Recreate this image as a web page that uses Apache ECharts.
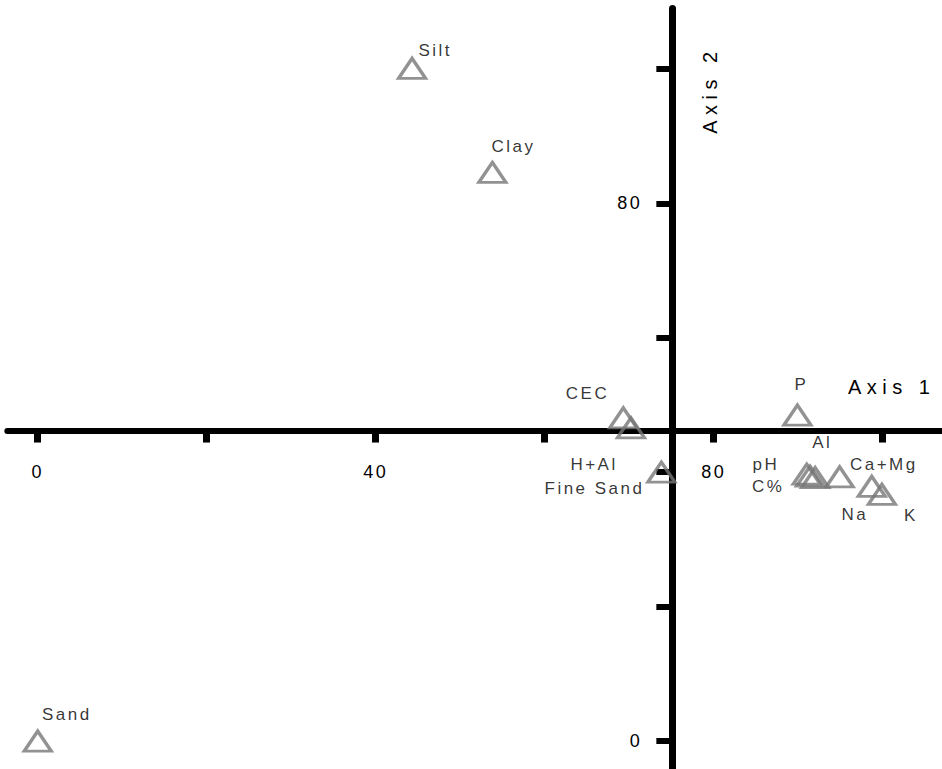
<!DOCTYPE html>
<html>
<head>
<meta charset="utf-8">
<script src="https://cdn.jsdelivr.net/npm/echarts@6/dist/echarts.min.js"></script>
<style>
  html, body { margin: 0; padding: 0; background: #fff; }
  #chart { width: 942px; height: 769px; }
  /* spaced-out lettering of the printed plot */
  #chart text { letter-spacing: 2.5px; }
  #chart text[style*="20px"] { letter-spacing: 5.5px; }
</style>
</head>
<body>
<div id="chart"></div>
<script>
// Variables (biplot scores)
const names = ['Silt', 'Clay', 'Sand', 'CEC', 'H+Al', 'Fine Sand', 'P', 'pH', 'C%', 'Al', 'Ca+Mg', 'Na', 'K'];
const axis1 = [44.3, 53.8, 0, 69.3, 70.2, 73.8, 89.9, 91.0, 91.4, 92.0, 94.9, 98.7, 99.9];
const axis2 = [100.1, 84.6, 0, 48.1, 46.6, 40.0, 48.5, 39.7, 39.4, 39.2, 39.3, 37.9, 36.7];

// Axis ticks and labels
const xTicks = [0, 20, 40, 60, 80, 100];
const xTickLabels = [0, 40, 80];
const yTicks = [0, 20, 40, 60, 80, 100];
const yTickLabels = [0, 80];

// Point where the two axes cross
const crossX = 75.1;
const crossY = 46.2;

// Label placement (pixel offsets of each label centre from its marker centre)
const labelOffsets = {
  'Silt': [25, -16], 'Clay': [23, -25], 'Sand': [31, -25],
  'CEC': [-34, -23], 'H+Al': [-35, 38], 'Fine Sand': [-65, 18],
  'P': [6, -29], 'pH': [-39, -8], 'C%': [-40, 12], 'Al': [9, -34],
  'Ca+Mg': [46, -11], 'Na': [-15, 30], 'K': [31, 22]
};

const W = 942, H = 769;
const xMin = -3.6, xMax = 107, yMin = -4, yMax = 109;
const grid = { left: 7.3, right: 0.1, top: 8.5, bottom: 1.1 };
const gridW = W - grid.left - grid.right;
const gridH = H - grid.top - grid.bottom;
const xAxisOffset = -((crossY - yMin) / (yMax - yMin)) * gridH;
const yAxisOffset = -((crossX - xMin) / (xMax - xMin)) * gridW;

const symW = 27, symH = 20;
const font = 'Liberation Sans';
const textColor = '#000';

const points = names.map((n, i) => ({
  name: n,
  value: [axis1[i], axis2[i]],
  label: { position: [symW / 2 + labelOffsets[n][0], symH / 2 + labelOffsets[n][1]] }
}));

const chart = echarts.init(document.getElementById('chart'), null, { renderer: 'svg' });
chart.setOption({
  animation: false,
  backgroundColor: '#fff',
  grid: { left: grid.left, right: grid.right, top: grid.top, bottom: grid.bottom, containLabel: false },
  xAxis: {
    type: 'value', min: xMin, max: xMax, position: 'bottom', offset: xAxisOffset,
    axisLine: { show: true, onZero: false, lineStyle: { color: '#000', width: 6 } },
    axisTick: { show: true, inside: false, length: 12, customValues: xTicks, lineStyle: { color: '#000', width: 7 } },
    axisLabel: { customValues: xTickLabels, margin: 32, fontFamily: font, fontSize: 18, color: textColor },
    splitLine: { show: false }
  },
  yAxis: {
    type: 'value', min: yMin, max: yMax, position: 'left', offset: yAxisOffset,
    axisLine: { show: true, onZero: false, lineStyle: { color: '#000', width: 7 } },
    axisTick: { show: true, inside: false, length: 16, customValues: yTicks, lineStyle: { color: '#000', width: 6 } },
    axisLabel: { customValues: yTickLabels, margin: 30, fontFamily: font, fontSize: 18, color: textColor },
    splitLine: { show: false }
  },
  graphic: [
    { type: 'text', left: 848, top: 377, style: { text: 'Axis 1', fontFamily: font, fontSize: 20, fill: textColor } },
    { type: 'text', x: 710, y: 90, rotation: Math.PI / 2,
      style: { text: 'Axis 2', fontFamily: font, fontSize: 20, fill: textColor, align: 'center', verticalAlign: 'middle' } }
  ],
  series: [{
    type: 'scatter',
    clip: false,
    data: points,
    symbol: 'triangle',
    symbolSize: [symW, symH],
    itemStyle: { color: 'rgba(0,0,0,0)', borderColor: '#777', borderWidth: 3.2 },
    label: {
      show: true, formatter: '{b}',
      fontFamily: font, fontSize: 17, color: textColor, align: 'center', verticalAlign: 'middle'
    },
    labelLayout: { hideOverlap: false },
    emphasis: { disabled: true }
  }]
});
</script>
</body>
</html>
